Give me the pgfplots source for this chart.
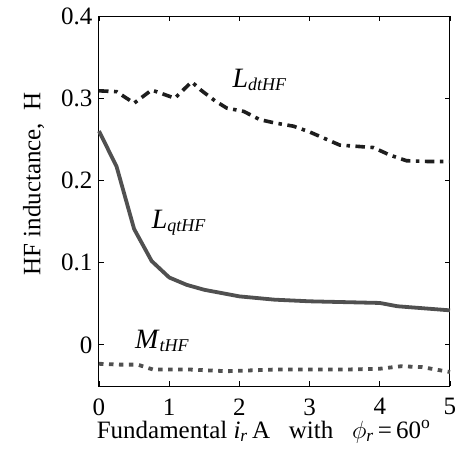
\documentclass[border=0pt]{standalone}
\usepackage{fontspec}
\setmainfont{Liberation Serif}
\usepackage{pgfplots}
\pgfplotsset{compat=1.18}
\definecolor{dk}{HTML}{1E1E1E}
\definecolor{gr}{HTML}{505050}
\begin{document}
\begin{tikzpicture}
\begin{axis}[
  scale only axis,
  width=351pt, height=370pt,
  xmin=0, xmax=5, ymin=-0.05, ymax=0.4,
  xtick={0,1,2,3,4,5},
  ytick={0,0.1,0.2,0.3,0.4},
  yticklabels={0,0.1,0.2,0.3,0.4},
  tick align=inside,
  major tick length=5pt,
  axis line style={line width=1pt},
  every tick/.style={black, line width=0.8pt},
  /pgf/number format/assume math mode=true,
  tick label style={font=\fontsize{25}{28}\selectfont},
  xticklabel style={yshift=-9pt},
  yticklabel style={xshift=-3pt},
  xlabel={Fundamental \textit{i}\textsubscript{\textit{r}}\,A\ \ \ with\ \ \ $\phi$\textsubscript{\textit{r}}\,=\,60\textsuperscript{o}},
  xlabel style={font=\fontsize{25}{28}\selectfont, at={(axis description cs:0.469,0)}, anchor=base, yshift=-52pt},
  ylabel={HF inductance,\ \ H},
  ylabel style={font=\fontsize{25}{28}\selectfont, at={(axis description cs:-0.1866,0.546)}, anchor=center},
  clip=false,
]
\addplot[color=dk, line width=3.6pt, dash pattern=on 9.5pt off 5.5pt on 3.5pt off 5.5pt] coordinates {
 (0,0.309) (0.25,0.308) (0.5,0.294) (0.75,0.310) (0.85,0.307) (1.08,0.300) (1.32,0.320) (1.45,0.310)
 (1.65,0.297) (1.82,0.288) (2.06,0.284) (2.29,0.274) (2.5,0.270) (2.77,0.266) (3.0,0.259)
 (3.43,0.243) (3.91,0.240) (4.14,0.231) (4.38,0.224) (4.7,0.223) (5,0.223)
};
\addplot[color=gr, line width=3.8pt] coordinates {
 (0,0.26) (0.25,0.217) (0.5,0.141) (0.75,0.102) (1.0,0.082) (1.25,0.073) (1.5,0.067)
 (1.75,0.063) (2.0,0.059) (2.5,0.055) (3.0,0.053) (3.5,0.052) (4.0,0.051) (4.25,0.047) (5,0.042)
};
\addplot[color=gr, line width=3.8pt, dash pattern=on 4.5pt off 5.5pt] coordinates {
 (0,-0.023) (0.3,-0.024) (0.55,-0.024) (0.77,-0.030) (1.3,-0.030) (1.82,-0.032) (2.5,-0.030)
 (3.0,-0.030) (3.5,-0.030) (4.0,-0.029) (4.3,-0.026) (4.6,-0.027) (5,-0.033)
};
\node[anchor=base west, inner sep=0pt, font=\fontsize{28}{30}\selectfont] at (axis cs:1.9,0.313) {\textit{L}\raisebox{-0.25ex}{\fontsize{18}{20}\selectfont\textit{dtHF}}};
\node[anchor=base west, inner sep=0pt, font=\fontsize{28}{30}\selectfont] at (axis cs:0.75,0.142) {\textit{L}\raisebox{-0.25ex}{\fontsize{18}{20}\selectfont\textit{qtHF}}};
\node[anchor=base west, inner sep=0pt, font=\fontsize{28}{30}\selectfont] at (axis cs:0.51,-0.004) {\textit{M}\raisebox{-0.25ex}{\fontsize{18}{20}\selectfont\textit{tHF}}};
\end{axis}
\path (current axis.south west) ++(-99pt,-65pt) rectangle ++(475pt,451pt);
\end{tikzpicture}
\end{document}
